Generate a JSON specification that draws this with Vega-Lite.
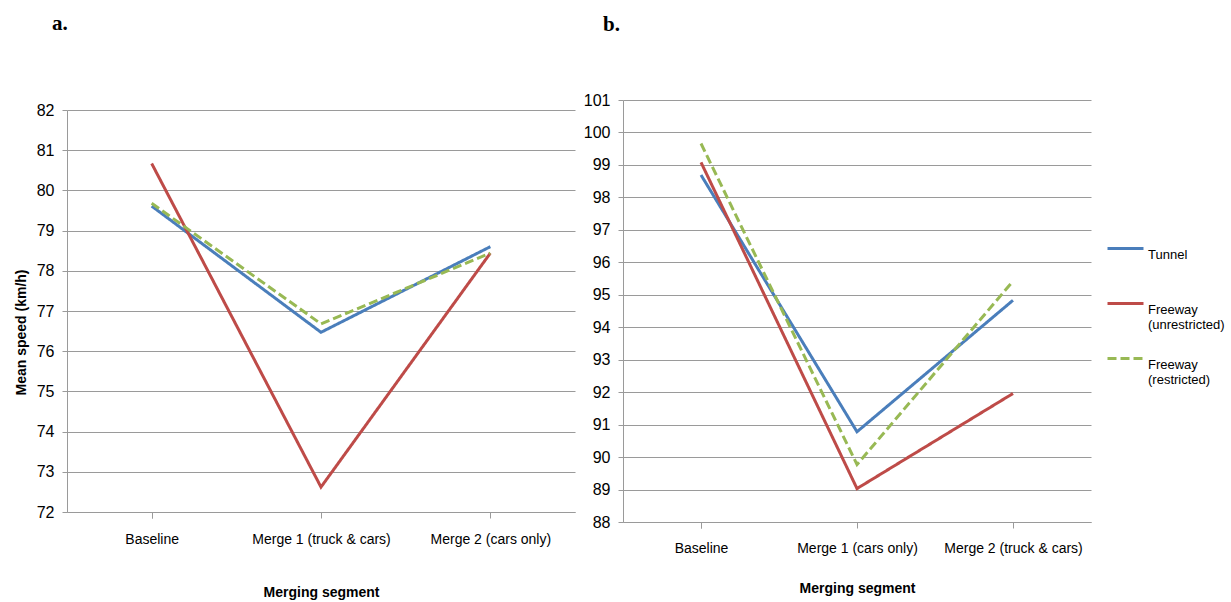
{
  "$schema": "https://vega.github.io/schema/vega-lite/v6.json",
  "padding": {"left": 14, "top": 13, "right": 5, "bottom": 5},
  "spacing": 48,
  "bounds": "flush",
  "center": true,
  "data": {"values": [
    {"panel": "a", "segment": "Baseline", "series": "Tunnel", "speed": 79.61},
    {"panel": "a", "segment": "Merge 1 (truck & cars)", "series": "Tunnel", "speed": 76.47},
    {"panel": "a", "segment": "Merge 2 (cars only)", "series": "Tunnel", "speed": 78.6},
    {"panel": "a", "segment": "Baseline", "series": "Freeway (unrestricted)", "speed": 80.67},
    {"panel": "a", "segment": "Merge 1 (truck & cars)", "series": "Freeway (unrestricted)", "speed": 72.62},
    {"panel": "a", "segment": "Merge 2 (cars only)", "series": "Freeway (unrestricted)", "speed": 78.44},
    {"panel": "a", "segment": "Baseline", "series": "Freeway (restricted)", "speed": 79.68},
    {"panel": "a", "segment": "Merge 1 (truck & cars)", "series": "Freeway (restricted)", "speed": 76.68},
    {"panel": "a", "segment": "Merge 2 (cars only)", "series": "Freeway (restricted)", "speed": 78.44},
    {"panel": "b", "segment": "Baseline", "series": "Tunnel", "speed": 98.69},
    {"panel": "b", "segment": "Merge 1 (cars only)", "series": "Tunnel", "speed": 90.78},
    {"panel": "b", "segment": "Merge 2 (truck & cars)", "series": "Tunnel", "speed": 94.83},
    {"panel": "b", "segment": "Baseline", "series": "Freeway (unrestricted)", "speed": 99.08},
    {"panel": "b", "segment": "Merge 1 (cars only)", "series": "Freeway (unrestricted)", "speed": 89.03},
    {"panel": "b", "segment": "Merge 2 (truck & cars)", "series": "Freeway (unrestricted)", "speed": 91.96},
    {"panel": "b", "segment": "Baseline", "series": "Freeway (restricted)", "speed": 99.66},
    {"panel": "b", "segment": "Merge 1 (cars only)", "series": "Freeway (restricted)", "speed": 89.77},
    {"panel": "b", "segment": "Merge 2 (truck & cars)", "series": "Freeway (restricted)", "speed": 95.42}
  ]},
  "hconcat": [
    {
      "width": 508,
      "height": 402,
      "title": {"text": "a.", "offset": 68, "dx": -15, "frame": "group"},
      "transform": [{"filter": "datum.panel === 'a'"}],
      "mark": {"type": "line", "strokeWidth": 3},
      "encoding": {
        "x": {"field": "segment", "type": "nominal", "sort": null,
              "scale": {"paddingInner": 0, "paddingOuter": 0},
              "axis": {"title": "Merging segment", "titlePadding": 39, "labelPadding": 14}},
        "y": {"field": "speed", "type": "quantitative",
              "scale": {"domain": [72, 82], "nice": false, "zero": false},
              "axis": {"title": "Mean speed (km/h)", "values": [72, 73, 74, 75, 76, 77, 78, 79, 80, 81, 82], "titlePadding": 8, "titleY": 222}},
        "color": {"field": "series", "type": "nominal", "title": null,
                  "scale": {"domain": ["Tunnel", "Freeway (unrestricted)", "Freeway (restricted)"], "range": ["#4a7ebb", "#be4b48", "#98b954"]},
                  "legend": {"labelExpr": "datum.label == 'Tunnel' ? ['Tunnel', ' '] : split(datum.label, ' ')"}},
        "strokeDash": {"field": "series", "type": "nominal", "title": null,
                  "scale": {"domain": ["Tunnel", "Freeway (unrestricted)", "Freeway (restricted)"], "range": [[1, 0], [1, 0], [9, 4]]},
                  "legend": {"labelExpr": "datum.label == 'Tunnel' ? ['Tunnel', ' '] : split(datum.label, ' ')"}}
      }
    },
    {
      "width": 468,
      "height": 422,
      "title": {"text": "b.", "offset": 57, "dx": -20, "frame": "group"},
      "transform": [{"filter": "datum.panel === 'b'"}],
      "mark": {"type": "line", "strokeWidth": 3},
      "encoding": {
        "x": {"field": "segment", "type": "nominal", "sort": null,
              "scale": {"paddingInner": 0, "paddingOuter": 0},
              "axis": {"title": "Merging segment", "titlePadding": 26, "labelPadding": 13}},
        "y": {"field": "speed", "type": "quantitative",
              "scale": {"domain": [88, 101], "nice": false, "zero": false},
              "axis": {"title": null, "values": [88, 89, 90, 91, 92, 93, 94, 95, 96, 97, 98, 99, 100, 101]}},
        "color": {"field": "series", "type": "nominal", "title": null,
                  "scale": {"domain": ["Tunnel", "Freeway (unrestricted)", "Freeway (restricted)"], "range": ["#4a7ebb", "#be4b48", "#98b954"]},
                  "legend": {"labelExpr": "datum.label == 'Tunnel' ? ['Tunnel', ' '] : split(datum.label, ' ')"}},
        "strokeDash": {"field": "series", "type": "nominal", "title": null,
                  "scale": {"domain": ["Tunnel", "Freeway (unrestricted)", "Freeway (restricted)"], "range": [[1, 0], [1, 0], [9, 4]]},
                  "legend": {"labelExpr": "datum.label == 'Tunnel' ? ['Tunnel', ' '] : split(datum.label, ' ')"}}
      }
    }
  ],
  "config": {
    "view": {"stroke": null},
    "title": {"font": "Liberation Serif", "fontSize": 21, "fontWeight": "bold", "anchor": "start", "color": "#000000"},
    "axis": {
      "labelFont": "Liberation Sans",
      "labelFontSize": 14,
      "labelColor": "#000000",
      "titleFont": "Liberation Sans",
      "titleFontSize": 14,
      "titleFontWeight": "bold",
      "titleColor": "#000000",
      "domainColor": "#9a9a9a",
      "tickColor": "#9a9a9a",
      "gridColor": "#9a9a9a",
      "tickSize": 5
    },
    "axisX": {"labelAngle": 0, "grid": false, "tickBand": "extent", "tickSize": 6},
    "axisY": {"grid": true, "labelPadding": 8, "labelFontSize": 16},
    "legend": {
      "orient": "none",
      "legendX": 1039,
      "legendY": 129,
      "labelFont": "Liberation Sans",
      "labelFontSize": 13,
      "labelColor": "#000000",
      "labelBaseline": "top",
      "symbolType": "stroke",
      "symbolSize": 1296,
      "symbolStrokeWidth": 3,
      "rowPadding": 7,
      "labelOffset": 3
    }
  }
}
